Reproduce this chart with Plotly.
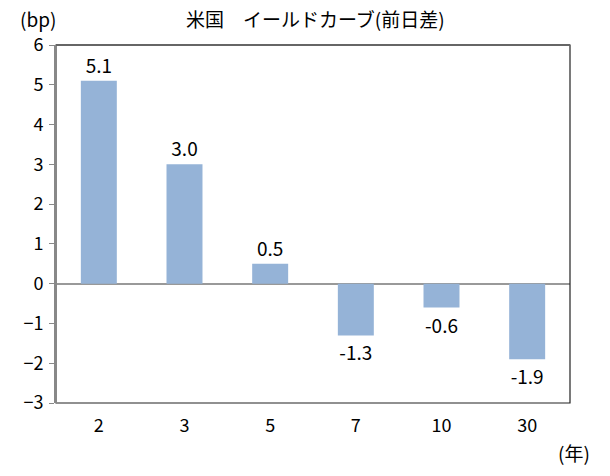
import plotly.graph_objects as go

categories = ["2", "3", "5", "7", "10", "30"]
values = [5.1, 3.0, 0.5, -1.3, -0.6, -1.9]
labels = ["5.1", "3.0", "0.5", "-1.3", "-0.6", "-1.9"]

font = "Noto Sans CJK JP"

fig = go.Figure()
fig.add_trace(go.Bar(
    x=categories, y=values, text=labels, textposition="outside",
    textfont=dict(size=19, color="black", family=font),
    marker=dict(color="#95B3D7", line=dict(width=0)),
    width=0.42, cliponaxis=False,
))

fig.update_layout(
    width=610, height=476,
    margin=dict(l=56, r=40, t=45, b=73),
    paper_bgcolor="white", plot_bgcolor="white",
    showlegend=False,
    font=dict(family=font, size=18, color="black"),
    xaxis=dict(type="category", showgrid=False, ticks="", showline=False,
               tickfont=dict(size=18), zeroline=False, ticklabelstandoff=10),
    yaxis=dict(range=[-3, 6], dtick=1, showgrid=False, ticks="outside",
               ticklen=5, tickcolor="#888888", showline=True, linecolor="#888888",
               linewidth=2, zeroline=True, zerolinecolor="#999999", zerolinewidth=1.5,
               tickfont=dict(size=18), ticklabelstandoff=2),
    shapes=[dict(type="rect", xref="paper", yref="paper", x0=0, x1=1, y0=0, y1=1,
                 line=dict(color="#222222", width=1.2), layer="above")],
    annotations=[
        dict(text="米国　イールドカーブ(前日差)", xref="paper", yref="paper",
             x=(315 - 56) / 514, y=1, yshift=27, showarrow=False,
             xanchor="center", yanchor="middle", font=dict(size=19)),
        dict(text="(bp)", xref="paper", yref="paper", x=-56 / 514 + 18 / 514, y=1,
             yshift=27, showarrow=False, xanchor="left", yanchor="middle",
             font=dict(size=19)),
        dict(text="(年)", xref="paper", yref="paper", x=1 + 22 / 514, y=0,
             yshift=-49, showarrow=False, xanchor="right", yanchor="middle",
             font=dict(size=19)),
    ],
)
fig.add_shape(type="line", xref="paper", yref="paper", x0=0, x1=0, y0=0, y1=1,
              line=dict(color="#888888", width=2), layer="above")
fig.add_shape(type="line", xref="paper", yref="paper", x0=0, x1=1, y0=1, y1=1,
              line=dict(color="#666666", width=2), layer="above")

fig.write_html("out.html")
